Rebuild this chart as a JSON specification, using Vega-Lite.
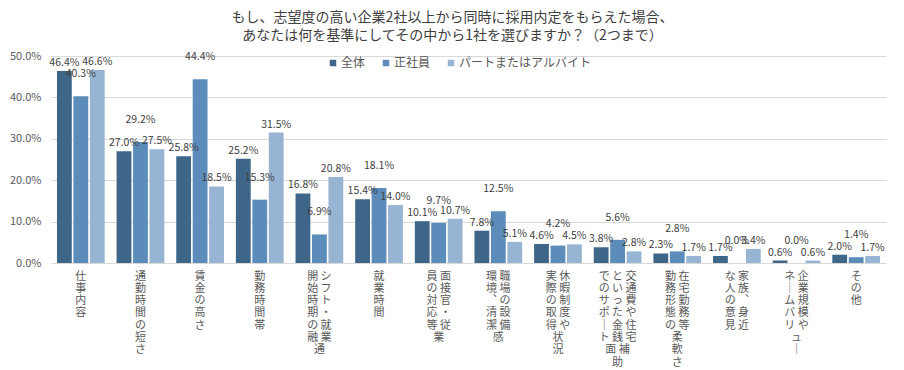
{
  "$schema": "https://vega.github.io/schema/vega-lite/v6.json",
  "autosize": "none",
  "width": 835,
  "height": 207,
  "padding": {"left": 51, "top": 56, "right": 18, "bottom": 107},
  "background": "white",
  "config": {
    "font": "Noto Sans CJK JP",
    "view": {"stroke": null}
  },
  "title": {
    "text": ["もし、志望度の高い企業2社以上から同時に採用内定をもらえた場合、", "あなたは何を基準にしてその中から1社を選びますか？（2つまで）"],
    "fontSize": 14,
    "fontWeight": "normal",
    "color": "#404040",
    "lineHeight": 18,
    "anchor": "middle",
    "dx": -16,
    "offset": 7,
    "font": "Noto Sans CJK JP"
  },
  "data": {
    "values": [
      {"item": "仕事内容", "series": "全体", "value": 0.464},
      {"item": "仕事内容", "series": "正社員", "value": 0.403},
      {"item": "仕事内容", "series": "パートまたはアルバイト", "value": 0.466},
      {"item": "通勤時間の短さ", "series": "全体", "value": 0.270},
      {"item": "通勤時間の短さ", "series": "正社員", "value": 0.292},
      {"item": "通勤時間の短さ", "series": "パートまたはアルバイト", "value": 0.275},
      {"item": "賃金の高さ", "series": "全体", "value": 0.258},
      {"item": "賃金の高さ", "series": "正社員", "value": 0.444},
      {"item": "賃金の高さ", "series": "パートまたはアルバイト", "value": 0.185},
      {"item": "勤務時間帯", "series": "全体", "value": 0.252},
      {"item": "勤務時間帯", "series": "正社員", "value": 0.153},
      {"item": "勤務時間帯", "series": "パートまたはアルバイト", "value": 0.315},
      {"item": "シフト・就業開始時期の融通", "series": "全体", "value": 0.168},
      {"item": "シフト・就業開始時期の融通", "series": "正社員", "value": 0.069},
      {"item": "シフト・就業開始時期の融通", "series": "パートまたはアルバイト", "value": 0.208},
      {"item": "就業時間", "series": "全体", "value": 0.154},
      {"item": "就業時間", "series": "正社員", "value": 0.181},
      {"item": "就業時間", "series": "パートまたはアルバイト", "value": 0.140},
      {"item": "面接官・従業員の対応等", "series": "全体", "value": 0.101},
      {"item": "面接官・従業員の対応等", "series": "正社員", "value": 0.097},
      {"item": "面接官・従業員の対応等", "series": "パートまたはアルバイト", "value": 0.107},
      {"item": "職場の設備環境、清潔感", "series": "全体", "value": 0.078},
      {"item": "職場の設備環境、清潔感", "series": "正社員", "value": 0.125},
      {"item": "職場の設備環境、清潔感", "series": "パートまたはアルバイト", "value": 0.051},
      {"item": "休暇制度や実際の取得状況", "series": "全体", "value": 0.046},
      {"item": "休暇制度や実際の取得状況", "series": "正社員", "value": 0.042},
      {"item": "休暇制度や実際の取得状況", "series": "パートまたはアルバイト", "value": 0.045},
      {"item": "交通費や住宅補助といった金銭面でのサポート", "series": "全体", "value": 0.038},
      {"item": "交通費や住宅補助といった金銭面でのサポート", "series": "正社員", "value": 0.056},
      {"item": "交通費や住宅補助といった金銭面でのサポート", "series": "パートまたはアルバイト", "value": 0.028},
      {"item": "在宅勤務等勤務形態の柔軟さ", "series": "全体", "value": 0.023},
      {"item": "在宅勤務等勤務形態の柔軟さ", "series": "正社員", "value": 0.028},
      {"item": "在宅勤務等勤務形態の柔軟さ", "series": "パートまたはアルバイト", "value": 0.017},
      {"item": "家族、身近な人の意見", "series": "全体", "value": 0.017},
      {"item": "家族、身近な人の意見", "series": "正社員", "value": 0.000},
      {"item": "家族、身近な人の意見", "series": "パートまたはアルバイト", "value": 0.034},
      {"item": "企業規模やネームバリュー", "series": "全体", "value": 0.006},
      {"item": "企業規模やネームバリュー", "series": "正社員", "value": 0.000},
      {"item": "企業規模やネームバリュー", "series": "パートまたはアルバイト", "value": 0.006},
      {"item": "その他", "series": "全体", "value": 0.020},
      {"item": "その他", "series": "正社員", "value": 0.014},
      {"item": "その他", "series": "パートまたはアルバイト", "value": 0.017}
    ]
  },
  "encoding": {
    "x": {
      "field": "item",
      "type": "nominal",
      "sort": null,
      "scale": {"paddingInner": 0.2, "paddingOuter": 0.1},
      "axis": {
        "title": null,
        "labelAngle": 0,
        "labelAlign": "center",
        "labelBaseline": "top",
        "labelPadding": 7,
        "labelFontSize": 11,
        "labelLineHeight": 12.3,
        "labelColor": "#595959",
        "labelLimit": 0,
        "ticks": false,
        "domainColor": "#d9d9d9",
        "domainWidth": 1,
        "labelExpr": "({'仕事内容': ['仕','事','内','容'], '通勤時間の短さ': ['通','勤','時','間','の','短','さ'], '賃金の高さ': ['賃','金','の','高','さ'], '勤務時間帯': ['勤','務','時','間','帯'], 'シフト・就業開始時期の融通': ['開 シ','始 フ','時 ト','期 ・','の 就','融 業','通 　'], '就業時間': ['就','業','時','間'], '面接官・従業員の対応等': ['員 面','の 接','対 官','応 ・','等 従','　 業'], '職場の設備環境、清潔感': ['環 職','境 場','︑ の','清 設','潔 備','感 　'], '休暇制度や実際の取得状況': ['実 休','際 暇','の 制','取 度','得 や','状 　','況 　'], '交通費や住宅補助といった金銭面でのサポート': ['で と 交','の い 通','サ っ 費','ポ た や','｜ 金 住','ト 銭 宅','　 面 補','　 　 助'], '在宅勤務等勤務形態の柔軟さ': ['勤 在','務 宅','形 勤','態 務','の 等','柔 　','軟 　','さ 　'], '家族、身近な人の意見': ['な 家','人 族','の ︑','意 身','見 近'], '企業規模やネームバリュー': ['ネ 企','｜ 業','ム 規','バ 模','リ や','ュ 　','｜ 　'], 'その他': ['そ','の','他']})[datum.value]"
      }
    },
    "xOffset": {
      "field": "series",
      "type": "nominal",
      "sort": ["全体", "正社員", "パートまたはアルバイト"],
      "scale": {"paddingInner": 0.1, "paddingOuter": 0}
    },
    "y": {
      "field": "value",
      "type": "quantitative",
      "scale": {"domain": [0, 0.5], "nice": false},
      "axis": {
        "title": null,
        "values": [0, 0.1, 0.2, 0.3, 0.4, 0.5],
        "format": ".1%",
        "labelFontSize": 11,
        "labelColor": "#595959",
        "labelPadding": 10,
        "ticks": false,
        "domain": false,
        "gridColor": "#d9d9d9",
        "gridWidth": 1
      }
    }
  },
  "layer": [
    {
      "mark": {"type": "bar"},
      "encoding": {
        "color": {
          "field": "series",
          "type": "nominal",
          "sort": ["全体", "正社員", "パートまたはアルバイト"],
          "scale": {"domain": ["全体", "正社員", "パートまたはアルバイト"], "range": ["#3d6689", "#5b8cba", "#98b4d3"]},
          "legend": {
            "title": null,
            "orient": "none",
            "direction": "horizontal",
            "legendX": 276,
            "legendY": 1,
            "symbolType": "square",
            "symbolSize": 42,
            "symbolStrokeWidth": 0,
            "labelFontSize": 12,
            "labelColor": "#595959",
            "labelOffset": 2,
            "columnPadding": 14
          }
        }
      }
    },
    {
      "transform": [{"filter": "datum.series !== '正社員'"}],
      "mark": {"type": "text", "baseline": "bottom", "dy": -3, "fontSize": 10.5, "color": "#404040"},
      "encoding": {
        "text": {"field": "value", "type": "quantitative", "format": ".1%"},
        "detail": {"field": "series"}
      }
    },
    {
      "transform": [{"filter": "datum.series === '正社員'"}],
      "mark": {"type": "text", "baseline": "bottom", "dy": -17, "fontSize": 10.5, "color": "#404040"},
      "encoding": {
        "text": {"field": "value", "type": "quantitative", "format": ".1%"},
        "detail": {"field": "series"}
      }
    }
  ]
}
